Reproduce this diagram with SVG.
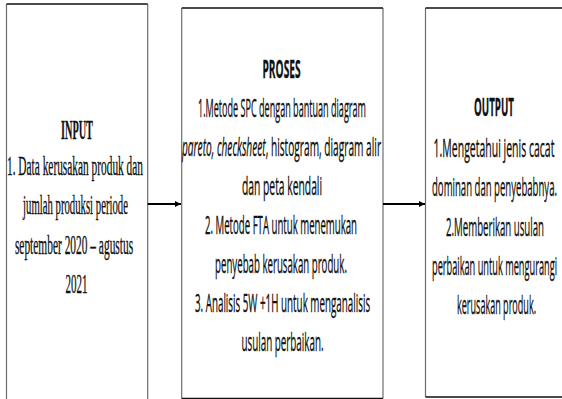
<svg xmlns="http://www.w3.org/2000/svg" width="562" height="399" viewBox="0 0 562 399">
  <defs>
    <style>
      .box { fill: #ffffff; stroke: none; }
      .vline { stroke: #6e6e6e; stroke-width: 1.2; fill: none; }
      .hline { stroke: #111111; stroke-width: 1.6; fill: none; }
      .serif { font-family: "Liberation Serif", "Times New Roman", serif; font-size: 27px; fill: #111111; stroke: #111111; stroke-width: 0.35; text-anchor: middle; }
      .sans { font-family: "Open Sans", "Noto Sans", "Liberation Sans", sans-serif; font-size: 25px; fill: #111111; stroke: #111111; stroke-width: 0.35; text-anchor: middle; }
      .bold { font-weight: bold; }
      .conn { stroke: #000000; stroke-width: 2.2; fill: none; }
    </style>
    <marker id="arrow" viewBox="0 0 10 10" refX="10" refY="5" markerUnits="userSpaceOnUse" markerWidth="6.5" markerHeight="11" orient="auto">
      <path d="M0,0 L10,5 L0,10 z" fill="#000000"/>
    </marker>
  </defs>

  <rect width="562" height="399" fill="#ffffff"/>

  <g id="input">
    <rect class="box" x="6.5" y="4" width="141.2" height="400"/>
    <path class="vline" d="M6.5,4 V399 M147.7,4 V399"/>
    <path class="hline" d="M6.5,4 H147.7"/>
    <text class="serif bold" transform="translate(77,139) scale(0.38,1)" x="0" y="0" font-size="29" textLength="84" lengthAdjust="spacingAndGlyphs">INPUT</text>
    <text class="serif" transform="translate(75,175) scale(0.38,1)" x="0" y="0" textLength="358" lengthAdjust="spacingAndGlyphs">1. Data kerusakan produk dan</text>
    <text class="serif" transform="translate(75.5,214) scale(0.38,1)" x="0" y="0" textLength="276" lengthAdjust="spacingAndGlyphs">jumlah produksi periode</text>
    <text class="serif" transform="translate(74,254) scale(0.38,1)" x="0" y="0" textLength="311" lengthAdjust="spacingAndGlyphs">september 2020 – agustus</text>
    <text class="serif" transform="translate(76.5,293) scale(0.38,1)" x="0" y="0" textLength="58" lengthAdjust="spacingAndGlyphs">2021</text>
  </g>

  <g id="proses">
    <rect class="box" x="181.7" y="8" width="201.3" height="390.5"/>
    <path class="vline" d="M181.7,8 V398.5 M383,8 V398.5"/>
    <path class="hline" d="M181.7,8 H383 M181.7,398.5 H383"/>
    <text class="sans bold" transform="translate(281.5,78) scale(0.38,1)" x="0" y="0" textLength="100" lengthAdjust="spacingAndGlyphs">PROSES</text>
    <text class="sans" transform="translate(282,117) scale(0.38,1)" x="0" y="0" textLength="442" lengthAdjust="spacingAndGlyphs">1.Metode SPC dengan bantuan diagram</text>
    <text class="sans" transform="translate(281.5,156) scale(0.38,1)" x="0" y="0" textLength="524" lengthAdjust="spacingAndGlyphs"><tspan font-style="italic">pareto, checksheet</tspan>, histogram, diagram alir</text>
    <text class="sans" transform="translate(282,195) scale(0.38,1)" x="0" y="0" textLength="211" lengthAdjust="spacingAndGlyphs">dan peta kendali</text>
    <text class="sans" transform="translate(281,234) scale(0.38,1)" x="0" y="0" textLength="400" lengthAdjust="spacingAndGlyphs">2. Metode FTA untuk menemukan</text>
    <text class="sans" transform="translate(281,273) scale(0.38,1)" x="0" y="0" textLength="347" lengthAdjust="spacingAndGlyphs">penyebab kerusakan produk.</text>
    <text class="sans" transform="translate(282.5,312) scale(0.38,1)" x="0" y="0" textLength="461" lengthAdjust="spacingAndGlyphs">3. Analisis 5W +1H untuk menganalisis</text>
    <text class="sans" transform="translate(282.5,351) scale(0.38,1)" x="0" y="0" textLength="216" lengthAdjust="spacingAndGlyphs">usulan perbaikan.</text>
  </g>

  <g id="output">
    <rect class="box" x="425.5" y="8" width="140" height="389"/>
    <path class="vline" d="M425.5,8 V397"/>
    <path class="hline" d="M425.5,8 H562 M425.5,397 H562"/>
    <text class="sans bold" transform="translate(494,116) scale(0.38,1)" x="0" y="0" textLength="105" lengthAdjust="spacingAndGlyphs">OUTPUT</text>
    <text class="sans" transform="translate(494,157) scale(0.38,1)" x="0" y="0" textLength="318" lengthAdjust="spacingAndGlyphs">1.Mengetahui jenis cacat</text>
    <text class="sans" transform="translate(494.5,196) scale(0.38,1)" x="0" y="0" textLength="329" lengthAdjust="spacingAndGlyphs">dominan dan penyebabnya.</text>
    <text class="sans" transform="translate(495,236) scale(0.38,1)" x="0" y="0" textLength="258" lengthAdjust="spacingAndGlyphs">2.Memberikan usulan</text>
    <text class="sans" transform="translate(494.5,275) scale(0.38,1)" x="0" y="0" textLength="329" lengthAdjust="spacingAndGlyphs">perbaikan untuk mengurangi</text>
    <text class="sans" transform="translate(496.5,314) scale(0.38,1)" x="0" y="0" textLength="208" lengthAdjust="spacingAndGlyphs">kerusakan produk.</text>
  </g>

  <g id="connectors">
    <line class="conn" x1="147.7" y1="204" x2="181" y2="204" marker-end="url(#arrow)"/>
    <line class="conn" x1="383" y1="204" x2="425" y2="204" marker-end="url(#arrow)"/>
  </g>
</svg>
